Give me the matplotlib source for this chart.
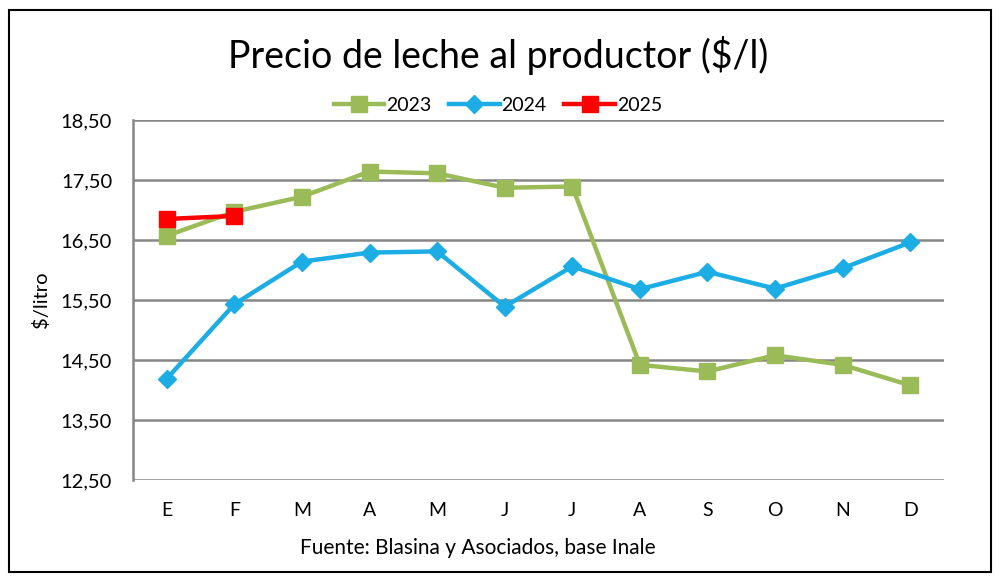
import matplotlib.pyplot as plt
from matplotlib.patches import Rectangle

# data
months = ['E', 'F', 'M', 'A', 'M', 'J', 'J', 'A', 'S', 'O', 'N', 'D']
precio_2023 = [16.57, 16.97, 17.22, 17.64, 17.61, 17.37, 17.39, 14.42, 14.31, 14.58, 14.42, 14.08]
precio_2024 = [14.19, 15.43, 16.14, 16.29, 16.31, 15.39, 16.06, 15.68, 15.97, 15.69, 16.03, 16.46]
precio_2025 = [16.85, 16.90]
y_ticks = [12.5, 13.5, 14.5, 15.5, 16.5, 17.5, 18.5]
y_tick_labels = ['12,50', '13,50', '14,50', '15,50', '16,50', '17,50', '18,50']

plt.rcParams['font.family'] = ['Lato', 'DejaVu Sans']

fig = plt.figure(figsize=(10, 5.82), dpi=100)
ax = fig.add_axes([0.133, 0.175, 0.811, 0.619])

x = list(range(len(months)))
ax.plot(x, precio_2023, color='#9BBB59', lw=3.2, marker='s', markersize=11,
        label='2023', zorder=3)
ax.plot(x, precio_2024, color='#1CADE4', lw=3.2, marker='D', markersize=9,
        label='2024', zorder=4)
ax.plot(x[:len(precio_2025)], precio_2025, color='#FF0000', lw=3.2, marker='s',
        markersize=11, label='2025', zorder=5)

ax.set_xlim(-0.5, 11.5)
ax.set_ylim(12.5, 18.5)
ax.set_xticks(x)
ax.set_xticklabels(months, fontsize=14)
ax.set_yticks(y_ticks)
ax.set_yticklabels(y_tick_labels, fontsize=14.5)
ax.tick_params(axis='y', length=0, pad=15)
ax.tick_params(axis='x', length=0, pad=16)
ax.grid(axis='y', color='#868686', lw=1.8, zorder=0)
for s in ['top', 'right', 'bottom']:
    ax.spines[s].set_visible(False)
ax.spines['left'].set_color('#868686')
ax.spines['left'].set_linewidth(1.8)
ax.set_ylabel('$/litro', fontsize=14.5, labelpad=8)

fig.text(0.498, 0.905, 'Precio de leche al productor ($/l)', ha='center',
         va='center', fontsize=27)
ax.legend(loc='center', bbox_to_anchor=(0.45, 1.04), ncol=3, frameon=False,
          fontsize=14, handlelength=2.6, columnspacing=0.9, handletextpad=0.1)
fig.text(0.478, 0.058, 'Fuente: Blasina y Asociados, base Inale', ha='center',
         va='center', fontsize=15)

fig.patches.append(Rectangle((0.009, 0.017), 0.982, 0.966, transform=fig.transFigure,
                             fill=False, edgecolor='black', lw=1.5))

fig.savefig('out.png', dpi=100)
